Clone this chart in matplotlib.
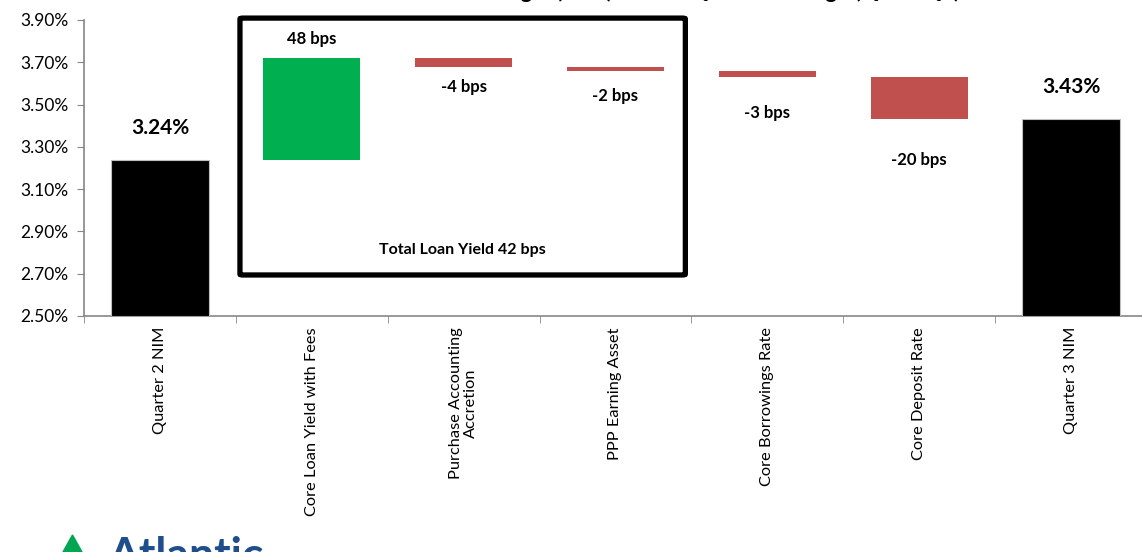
import matplotlib
matplotlib.use("Agg")
from matplotlib import pyplot as plt
from matplotlib.patches import FancyBboxPatch
from matplotlib.ticker import FuncFormatter, FixedLocator
import numpy as np

plt.rcParams['font.family'] = ['Lato', 'DejaVu Sans']

# data
categories = ['Quarter 2 NIM', 'Core Loan Yield with Fees', 'Purchase Accounting\nAccretion',
              'PPP Earning Asset', 'Core Borrowings Rate', 'Core Deposit Rate', 'Quarter 3 NIM']
q2_nim = 3.24
changes_bps = [48, -4, -2, -3, -20]
q3_nim = 3.43
change_labels = ['48 bps', '-4 bps', '-2 bps', '-3 bps', '-20 bps']
nim_labels = ['3.24%', '3.43%']
box_label = 'Total Loan Yield 42 bps'
title = 'Net Interest Margin (NIM) Linked Quarter Change (Q2 to Q3)'
y_ticks = [2.50, 2.70, 2.90, 3.10, 3.30, 3.50, 3.70, 3.90]

# layout of the bps labels (points, from bar edge)
label_gap = [14, 15, 18, 26, 29]

GREEN = '#00B050'
RED = '#C0504D'
GREY = '#868686'

fig = plt.figure(figsize=(11.42, 5.52), dpi=100)
ax = fig.add_axes([84/1142, 1-316/552, 1063/1142, 296/552])

x = np.arange(len(categories))
w = 0.64

# endpoints
ax.bar(x[0], q2_nim - 2.5, bottom=2.5, width=w, color='black', edgecolor='#BFBFBF', lw=0.8, zorder=3)
ax.bar(x[-1], q3_nim - 2.5, bottom=2.5, width=w, color='black', edgecolor='#BFBFBF', lw=0.8, zorder=3)

level = q2_nim
for i, (d, lab, gap) in enumerate(zip(changes_bps, change_labels, label_gap)):
    d_pct = d / 100
    lo = min(level, level + d_pct)
    ax.bar(x[i+1], abs(d_pct), bottom=lo, width=w, color=GREEN if d > 0 else RED, zorder=3)
    if d > 0:
        ax.annotate(lab, (x[i+1], lo + abs(d_pct)), xytext=(0, gap), textcoords='offset points',
                    ha='center', va='center', fontsize=12, fontweight='bold')
    else:
        ax.annotate(lab, (x[i+1], lo), xytext=(0, -gap), textcoords='offset points',
                    ha='center', va='center', fontsize=12, fontweight='bold')
    level += d_pct

for xi, v, lab in [(x[0], q2_nim, nim_labels[0]), (x[-1], q3_nim, nim_labels[1])]:
    ax.annotate(lab, (xi, v), xytext=(0, 23), textcoords='offset points',
                ha='center', va='center', fontsize=15, fontweight='bold')

# box around the loan yield items
box = FancyBboxPatch((0.527, 2.694), 3.46 - 0.527, 3.909 - 2.694,
                     boxstyle='round,pad=0,rounding_size=0.02', fill=False,
                     edgecolor='black', lw=3.8, clip_on=False, zorder=4,
                     mutation_aspect=0.2)
ax.add_patch(box)
ax.text(1.99, 2.81, box_label, ha='center', va='center', fontsize=11.5, fontweight='bold')

ax.set_xlim(-0.5, len(categories) - 0.5)
ax.set_ylim(2.5, 3.9)
ax.yaxis.set_major_locator(FixedLocator(y_ticks))
ax.yaxis.set_major_formatter(FuncFormatter(lambda v, p: f'{v:.2f}%'))
ax.set_xticks(x)
ax.set_xticklabels(categories, rotation=90, fontsize=11.8, va='top', linespacing=1.1)
ax.xaxis.set_minor_locator(FixedLocator(np.arange(-0.5, len(categories), 1)))
ax.tick_params(axis='x', which='major', length=0, pad=8)
ax.tick_params(axis='x', which='minor', length=5, color=GREY, direction='out')
ax.tick_params(axis='y', length=5, color=GREY, labelsize=12.5, pad=6)

for s in ['top', 'right']:
    ax.spines[s].set_visible(False)
for s in ['left', 'bottom']:
    ax.spines[s].set_color(GREY)
    ax.spines[s].set_linewidth(1.2)

# title sits above the visible canvas, only the descenders show
fig.text(0.575, 1.004, title, ha='center', va='baseline', fontsize=16, fontweight='bold')

# logo fragment in the corner
fig.text(108/1142, 1-536/552, 'Atlantic', ha='left', va='top', fontsize=32,
         fontweight='bold', color='#1F4E8C')
fig.patches.append(plt.Polygon([[63/1142, 1-552/552], [82/1142, 1-552/552], [72.5/1142, 1-535/552]],
                               closed=True, color='#00A651', transform=fig.transFigure))

fig.savefig('out.png', dpi=100)
